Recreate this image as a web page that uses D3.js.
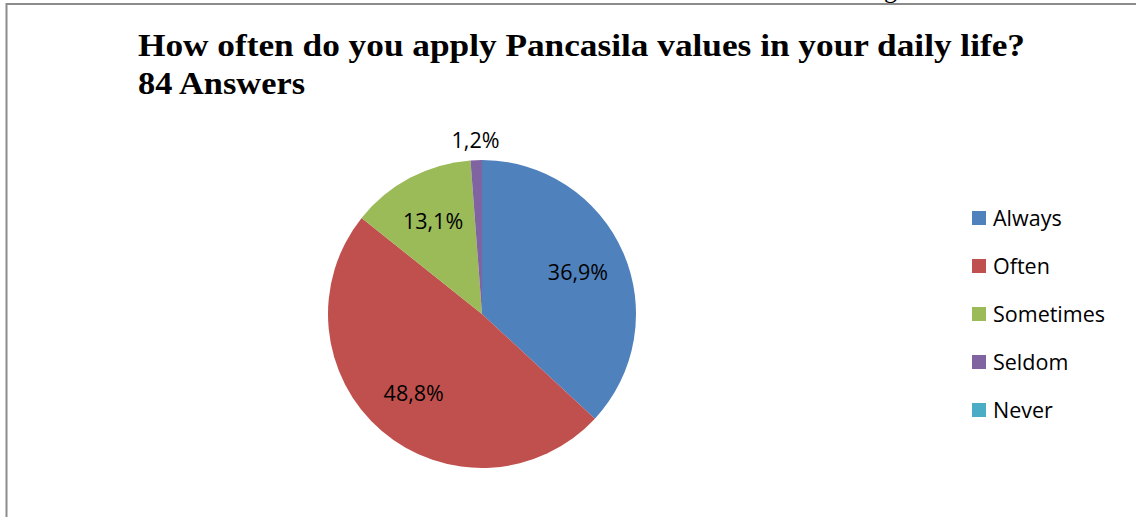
<!DOCTYPE html>
<html>
<head>
<meta charset="utf-8">
<script src="https://cdn.jsdelivr.net/npm/d3@7"></script>
<style>
  html, body { margin: 0; padding: 0; background: #fff; }
  svg { display: block; }
</style>
</head>
<body>
<svg id="chart" width="1136" height="517"></svg>
<script>
// Survey responses (84 answers)
const categories = ["Always", "Often", "Sometimes", "Seldom", "Never"];
const counts = [31, 41, 11, 1, 0];
const colors = ["#4F81BD", "#C0504D", "#9BBB59", "#8064A2", "#4BACC6"];
const titleLines = ["How often do you apply Pancasila values in your daily life?", "84 Answers"];

const total = d3.sum(counts);
const fmtPct = v => d3.format(".1f")(v * 100).replace(".", ",") + "%";

const svg = d3.select("#chart");

// Frame of the chart area
svg.append("rect")
  .attr("x", 6.5).attr("y", 4)
  .attr("width", 1140).attr("height", 530)
  .attr("fill", "#fff")
  .attr("stroke", "#8c8c8c")
  .attr("stroke-width", 2);

// Descender of the page text running above the frame
svg.append("text")
  .attr("x", 884).attr("y", -2)
  .attr("font-family", "Liberation Serif, serif")
  .attr("font-size", 26)
  .attr("fill", "#000")
  .text("g");

// Title
const title = svg.append("g")
  .attr("font-family", "Liberation Serif, serif")
  .attr("font-weight", "bold")
  .attr("font-size", 32)
  .attr("fill", "#000");
title.append("text").attr("x", 138).attr("y", 56)
  .attr("textLength", 887).attr("lengthAdjust", "spacingAndGlyphs")
  .text(titleLines[0]);
title.append("text").attr("x", 138).attr("y", 94)
  .attr("textLength", 167).attr("lengthAdjust", "spacingAndGlyphs")
  .text(titleLines[1]);

// Pie
const cx = 482, cy = 314, radius = 154;
const pie = d3.pie().sort(null).value(d => d.value);
const data = categories.map((c, i) => ({ name: c, value: counts[i], color: colors[i] }));
const arcs = pie(data);
const arc = d3.arc().innerRadius(0).outerRadius(radius);
const labelArc = d3.arc().innerRadius(radius * 0.68).outerRadius(radius * 0.68);
const outerLabelArc = d3.arc().innerRadius(radius + 20).outerRadius(radius + 20);

const g = svg.append("g").attr("transform", `translate(${cx},${cy})`);
g.selectAll("path.slice")
  .data(arcs.filter(d => d.data.value > 0))
  .join("path")
  .attr("class", "slice")
  .attr("d", arc)
  .attr("fill", d => d.data.color);

g.selectAll("text.lbl")
  .data(arcs.filter(d => d.data.value > 0))
  .join("text")
  .attr("class", "lbl")
  .attr("transform", d => {
    const frac = d.data.value / total;
    const p = frac < 0.05 ? outerLabelArc.centroid(d) : labelArc.centroid(d);
    return `translate(${p[0]},${p[1]})`;
  })
  .attr("text-anchor", "middle")
  .attr("dy", "0.36em")
  .attr("font-family", "'Open Sans', sans-serif")
  .attr("font-size", 21.5)
  .attr("fill", "#000")
  .text(d => fmtPct(d.data.value / total));

// Legend
const legend = svg.append("g").attr("transform", "translate(972,218)");
const items = legend.selectAll("g.item")
  .data(data)
  .join("g")
  .attr("class", "item")
  .attr("transform", (d, i) => `translate(0,${i * 48})`);
items.append("rect")
  .attr("x", 0).attr("y", -7)
  .attr("width", 14).attr("height", 14)
  .attr("fill", d => d.color);
items.append("text")
  .attr("x", 21).attr("y", 0)
  .attr("dy", "0.36em")
  .attr("font-family", "'Open Sans', sans-serif")
  .attr("font-size", 21.5)
  .attr("fill", "#000")
  .text(d => d.name);
</script>
</body>
</html>
